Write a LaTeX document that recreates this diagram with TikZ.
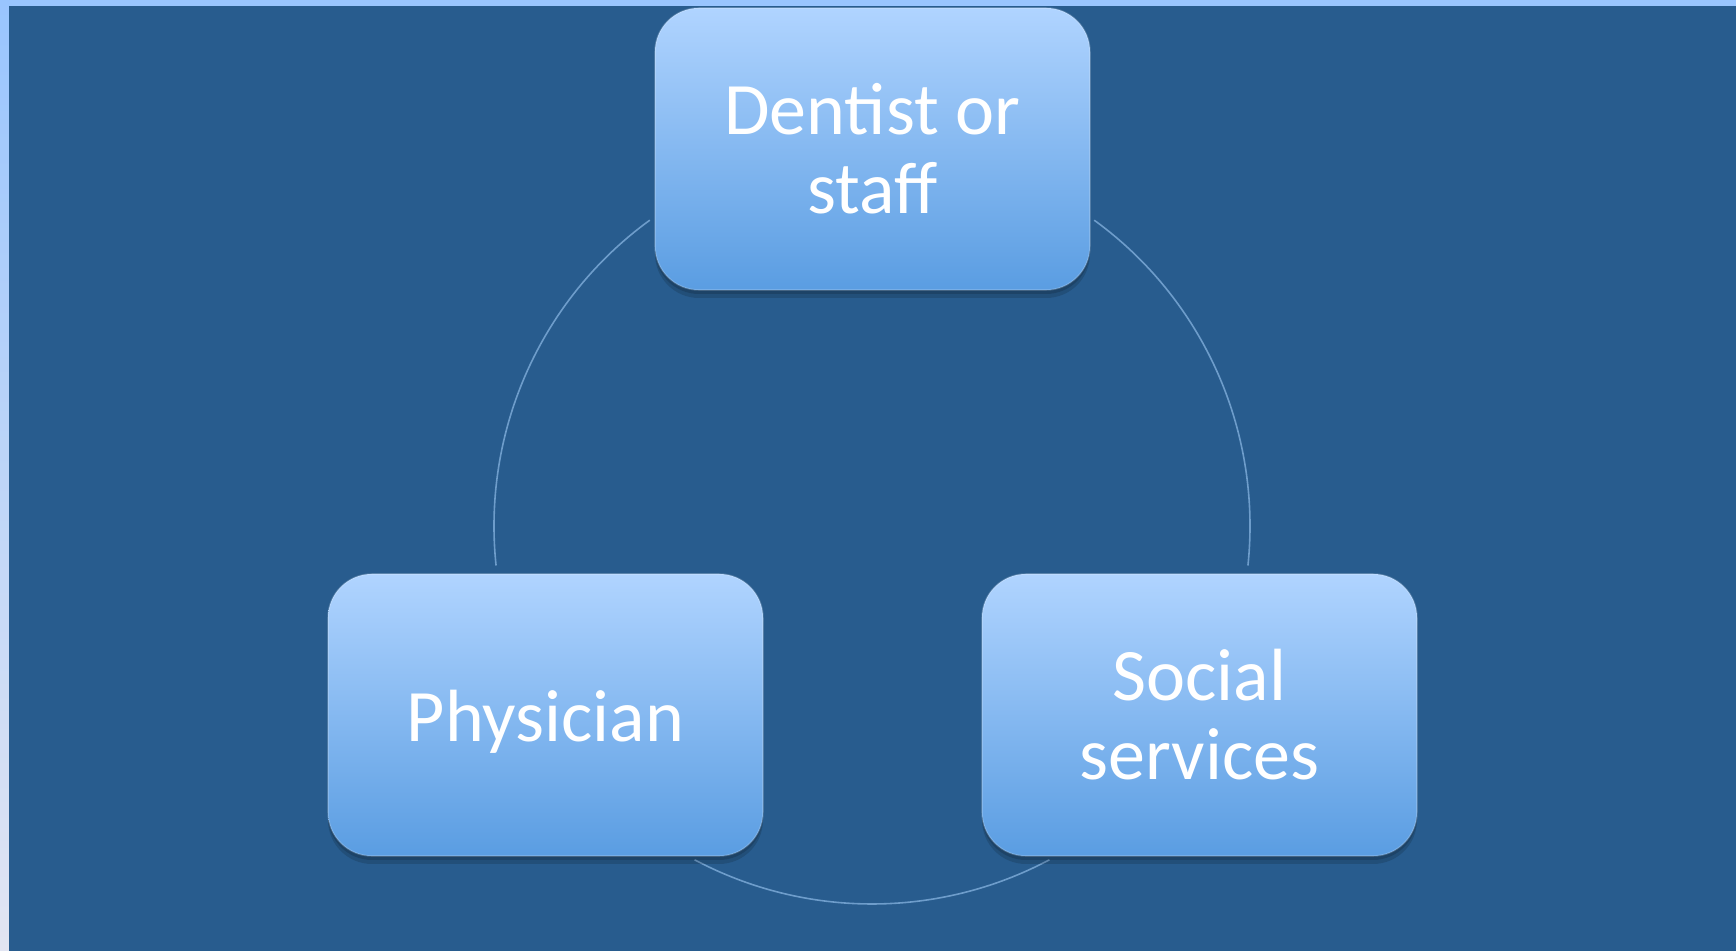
\documentclass[tikz,border=0pt]{standalone}
\usepackage{fontspec}
\setmainfont{Carlito}
\definecolor{bgblue}{HTML}{285C8E}
\definecolor{stripA}{HTML}{99C5FE}
\definecolor{stripB}{HTML}{E2E5F2}
\definecolor{boxtop}{HTML}{B0D4FF}
\definecolor{boxbot}{HTML}{5A9DE2}
\definecolor{ringcol}{HTML}{6E9DCB}
\begin{document}
\begin{tikzpicture}[x=0.5pt,y=0.5pt,
  boxbase/.style={rounded corners=22pt, minimum width=217.5pt, minimum height=141pt,
    inner sep=0pt, top color=boxtop, bottom color=boxbot, text=white,
    font=\fontsize{37}{39.5}\selectfont, align=center,
    preaction={fill=black, opacity=0.14, transform canvas={yshift=-4pt}},
    preaction={fill=black, opacity=0.14, transform canvas={yshift=-2pt}},
    postaction={draw=white, draw opacity=0.18, line width=0.8pt}},
  oneline/.style={boxbase, text height=27pt, text depth=0pt},
  twoline/.style={boxbase, text height=65pt, text depth=0pt},
  ring/.style={draw=ringcol, line width=0.8pt}]
\useasboundingbox (0,0) rectangle (1736,951);
\shade[top color=stripA, bottom color=stripB] (0,0) rectangle (1736,951);
\fill[bgblue] (9,0) rectangle (1736,945);
\coordinate (c) at (872,425);
\draw[ring] ([shift={(126:378)}]c) arc[start angle=126, end angle=186, radius=378];
\draw[ring] ([shift={(54:378)}]c) arc[start angle=54, end angle=-6, radius=378];
\draw[ring] ([shift={(242:378)}]c) arc[start angle=242, end angle=298, radius=378];
\node[twoline] (dent) at (872.5,802) {Dentist or\\staff};
\node[oneline] (phys) at (545.5,236) {Physician};
\node[twoline] (soc) at (1199.5,236) {Social\\services};
\end{tikzpicture}
\end{document}
